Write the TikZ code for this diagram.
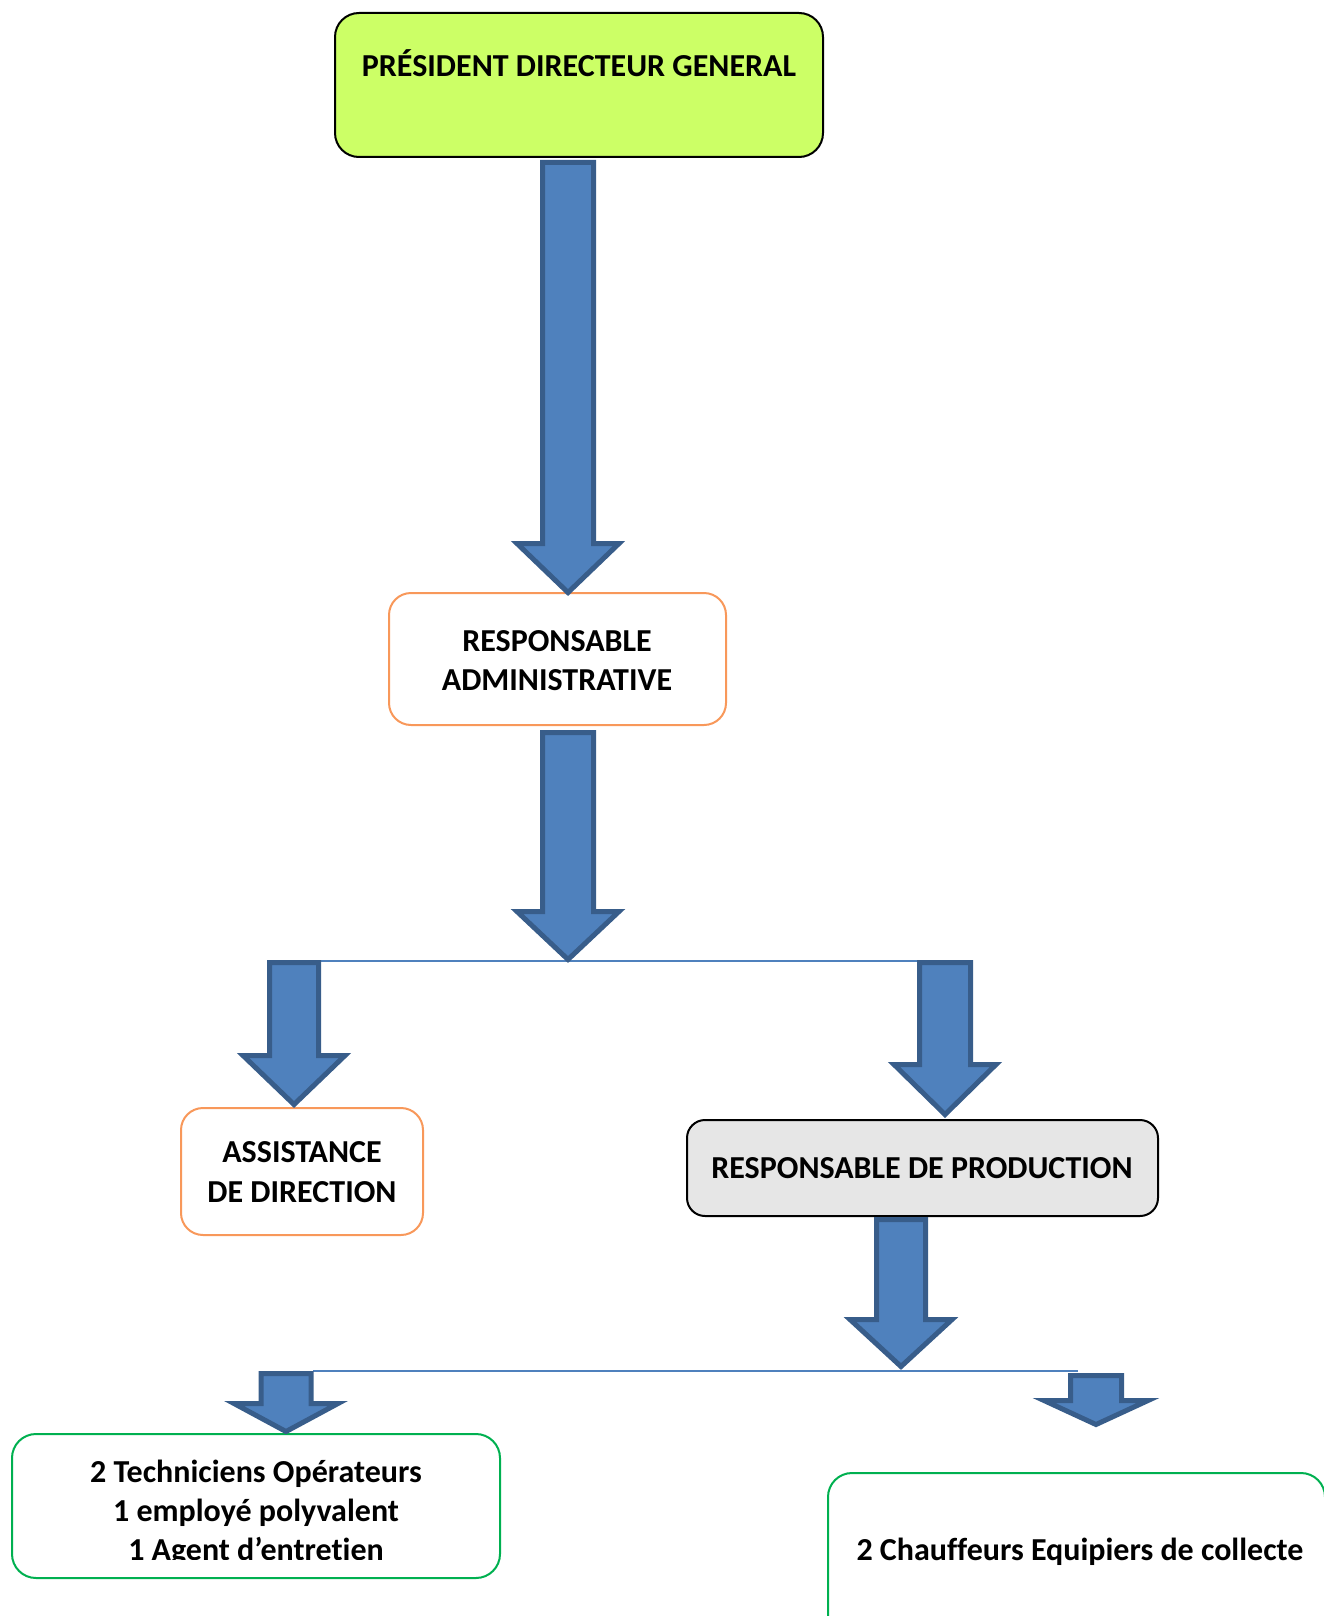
\documentclass[tikz,border=0pt]{standalone}
\usepackage{fontspec}
\setmainfont{Carlito}[Ligatures={NoCommon}]
\definecolor{pdgfill}{RGB}{204,255,102}
\definecolor{arrfill}{RGB}{79,129,189}
\definecolor{arrdraw}{RGB}{56,93,138}
\definecolor{orangeb}{RGB}{248,152,90}
\definecolor{greenb}{RGB}{0,176,80}
\definecolor{grayfill}{RGB}{230,230,230}
\newcommand\blockarr[6]{% xc, ytop, halfshaft, ywing, halfwing, ytip (outer sizes)
  \draw[barrow] ({#1-#3+2.5},{#2+2.5}) -- ({#1+#3-2.5},{#2+2.5}) -- ({#1+#3-2.5},{#4+2.5})
    -- ({#1+#5-3},{#4+2.5}) -- (#1,{#6-3.5}) -- ({#1-#5+3},{#4+2.5}) -- ({#1-#3+2.5},{#4+2.5}) -- cycle;}
\begin{document}
\begin{tikzpicture}[x=1pt,y=-1pt,
  box/.style={rectangle, rounded corners=22pt, line width=2pt, fill=white, inner sep=0pt},
  pdgbox/.style={box, draw=black, fill=pdgfill, rounded corners=24pt},
  orbox/.style={box, draw=orangeb},
  graybox/.style={box, draw=black, fill=grayfill, rounded corners=18pt},
  grbox/.style={box, draw=greenb, rounded corners=24pt},
  txt/.style={anchor=base, inner sep=0pt, font=\fontsize{32}{39}\selectfont\bfseries},
  barrow/.style={fill=arrfill, draw=arrdraw, line width=5pt, line join=miter},
  hline/.style={draw=arrfill, line width=1.6pt}]
\useasboundingbox (0,0) rectangle (1324,1616);
\clip (0,0) rectangle (1324,1616);
% boxes
\node[pdgbox, minimum width=488pt, minimum height=144pt] (pdg) at (579,85) {};
\node[orbox, minimum width=337pt, minimum height=132pt] (admin) at (557.5,659) {};
\node[orbox, minimum width=242pt, minimum height=127pt] (assist) at (302,1171.5) {};
\node[graybox, minimum width=471pt, minimum height=96pt] (prod) at (922.5,1168) {};
\node[grbox, minimum width=488pt, minimum height=144pt] (techs) at (256,1506) {};
\node[grbox, minimum width=497pt, minimum height=207pt] (chauff) at (1076.5,1576.5) {};
% texts
\node[txt] (tpdg) at (579,77) {PRÉSIDENT DIRECTEUR GENERAL};
\node[txt] (tadm1) at (557,651) {RESPONSABLE};
\node[txt] (tadm2) at (557,690) {ADMINISTRATIVE};
\node[txt] (tass1) at (302,1162) {ASSISTANCE};
\node[txt] (tass2) at (302,1202) {DE DIRECTION};
\node[txt] (tprod) at (922,1178) {RESPONSABLE DE PRODUCTION};
\node[txt] (ttec1) at (256,1482) {2 Techniciens Opérateurs};
\node[txt] (ttec2) at (256,1521) {1 employé polyvalent};
\begin{scope}
\clip (0,0) rectangle (1324,1559);
\node[txt] (ttec3) at (256,1560) {1 Agent d’entretien};
\end{scope}
\node[txt] (tchf) at (1080,1560) {2 Chauffeurs Equipiers de collecte};
% horizontal connectors
\coordinate (j1l) at (321,961);
\coordinate (j1r) at (917,961);
\coordinate (j2l) at (313,1371);
\coordinate (j2r) at (1078,1371);
\draw[hline] (j1l) -- (j1r);
\draw[hline] (j2l) -- (j2r);
% block arrows
\blockarr{568}{160}{28}{541}{54}{596}
\blockarr{568}{730}{28}{909}{54}{963}
\blockarr{294}{960}{27}{1053}{54}{1108}
\blockarr{945}{960}{28}{1062}{54}{1118}
\blockarr{901}{1217}{27}{1317}{54}{1370}
\blockarr{286}{1371}{27.5}{1401}{55}{1435}
\blockarr{1096}{1373}{28}{1398}{55}{1428}
\end{tikzpicture}
\end{document}
